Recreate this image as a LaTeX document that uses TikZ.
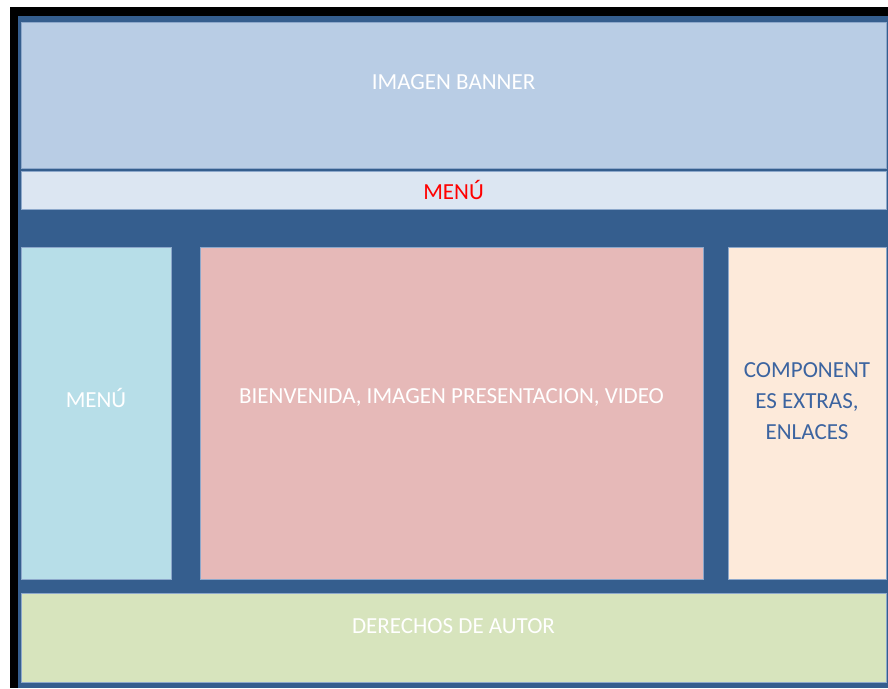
\documentclass[tikz,border=0pt]{standalone}
\usepackage{fontspec}
\setmainfont{Carlito}
\usepackage{xcolor}
\usepackage{tikz}
\usetikzlibrary{positioning, calc}

\definecolor{pageblue}{HTML}{355E8E}
\definecolor{edgeblue}{HTML}{8DA8CB}
\definecolor{bannerfill}{HTML}{B9CDE5}
\definecolor{menubarfill}{HTML}{DCE6F2}
\definecolor{sidemenufill}{HTML}{B7DEE8}
\definecolor{mainfill}{HTML}{E6B9B8}
\definecolor{extrafill}{HTML}{FDEADA}
\definecolor{footerfill}{HTML}{D7E4BD}
\definecolor{extratext}{HTML}{3C64A0}

\begin{document}
\begin{tikzpicture}[x=1pt, y=-1pt,
    region/.style={rectangle, draw=edgeblue, line width=0.8pt, inner sep=0pt, outer sep=0pt},
    lbl/.style={font=\fontsize{23}{31}\selectfont, text=white, inner sep=0pt, align=center}]
    \useasboundingbox (0,0) rectangle (888,688);

    % frame and page background
    \fill[black] (10,7) rectangle (888,688);
    \fill[pageblue] (18,16) rectangle (888,688);

    \node[region, fill=bannerfill, minimum width=865pt, minimum height=146pt] (banner) at (453.5, 95) {};
    \node[region, fill=menubarfill, minimum width=865pt, minimum height=38pt] (menubar) at (453.5, 190) {};
    \node[region, fill=sidemenufill, minimum width=150pt, minimum height=332pt] (sidemenu) at (96, 413) {};
    \node[region, fill=mainfill, minimum width=503pt, minimum height=332pt] (main) at (451.5, 413) {};
    \node[region, fill=extrafill, minimum width=158pt, minimum height=332pt] (extras) at (807, 413) {};
    \node[region, fill=footerfill, minimum width=865pt, minimum height=89pt] (footer) at (453.5, 637.5) {};

    % labels
    \node[lbl, yshift=13pt] (bannerlbl) at (banner.center) {IMAGEN BANNER};
    \node[lbl, text=red] (menubarlbl) at (menubar.center) {MENÚ};
    \node[lbl, yshift=15pt] (sidemenulbl) at (sidemenu.center) {MENÚ};
    \node[lbl, yshift=15pt] (mainlbl) at (main.center) {BIENVENIDA, IMAGEN PRESENTACION, VIDEO};
    \node[lbl, text=extratext, yshift=12pt] (extraslbl) at (extras.center) {COMPONENT\\ES EXTRAS,\\ENLACES};
    \node[lbl, yshift=11.5pt] (footerlbl) at (footer.center) {DERECHOS DE AUTOR};
  \end{tikzpicture}
\end{document}
